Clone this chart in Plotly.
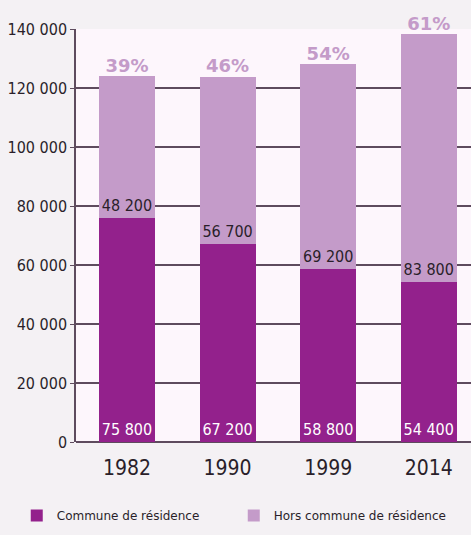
import plotly.graph_objects as go

years = ["1982", "1990", "1999", "2014"]
commune = [75800, 67200, 58800, 54400]
hors = [48200, 56700, 69200, 83800]
commune_labels = ["75 800", "67 200", "58 800", "54 400"]
hors_labels = ["48 200", "56 700", "69 200", "83 800"]
pct_labels = ["39%", "46%", "54%", "61%"]
totals = [c + h for c, h in zip(commune, hors)]

DARK = "#93218c"
LIGHT = "#c49bc9"
NUMFONT = "DejaVu Sans Condensed, DejaVu Sans, sans-serif"

fig = go.Figure()
fig.add_trace(go.Bar(
    x=years, y=commune, name="Commune de résidence",
    marker=dict(color=DARK, line=dict(width=0)),
    text=commune_labels, textposition="inside", insidetextanchor="start",
    textangle=0, constraintext="none",
    textfont=dict(family=NUMFONT, size=16, color="white"),
    width=0.557,
))
fig.add_trace(go.Bar(
    x=years, y=hors, name="Hors commune de résidence",
    marker=dict(color=LIGHT, line=dict(width=0)),
    text=hors_labels, textposition="inside", insidetextanchor="start",
    textangle=0, constraintext="none",
    textfont=dict(family=NUMFONT, size=16, color="#2a1f2a"),
    width=0.557,
))
fig.add_trace(go.Scatter(
    x=years, y=totals, mode="text", text=pct_labels, textposition="top center",
    textfont=dict(family="DejaVu Sans, sans-serif", size=18,
                  color=LIGHT, weight="bold"),
    showlegend=False, hoverinfo="skip", cliponaxis=False,
))

fig.update_layout(
    width=471, height=535,
    barmode="stack",
    separators=", ",
    paper_bgcolor="#f4f1f4",
    plot_bgcolor="#fdf6fc",
    margin=dict(l=76, r=0, t=29, b=93, autoexpand=False),
    showlegend=True,
    legend=dict(orientation="h", x=-0.15, xanchor="left", y=-0.143, yanchor="top",
                font=dict(family="DejaVu Sans, sans-serif", size=12, color="#2a1f2a"),
                entrywidth=172, entrywidthmode="pixels", traceorder="normal",
                bgcolor="rgba(0,0,0,0)"),
    xaxis=dict(type="category", range=[-0.507, 3.42], showgrid=False,
               tickfont=dict(family=NUMFONT, size=21, color="#2a1f2a"),
               ticks="outside", ticklen=7, tickcolor="rgba(0,0,0,0)",
               showline=False, automargin=False),
    yaxis=dict(range=[0, 140000], dtick=20000, tickformat=",d",
               showgrid=True, gridcolor="#5e4b5e", gridwidth=1.5,
               showline=True, linecolor="#5e4b5e", linewidth=1.5,
               ticks="outside", ticklen=4, tickcolor="#5e4b5e",
               zeroline=True, zerolinecolor="#5e4b5e", zerolinewidth=1.5,
               automargin=False,
               tickfont=dict(family=NUMFONT, size=16, color="#2a1f2a")),
)

fig.write_html("out.html", config={"displayModeBar": False},
               post_script="document.body.style.margin='0';")
